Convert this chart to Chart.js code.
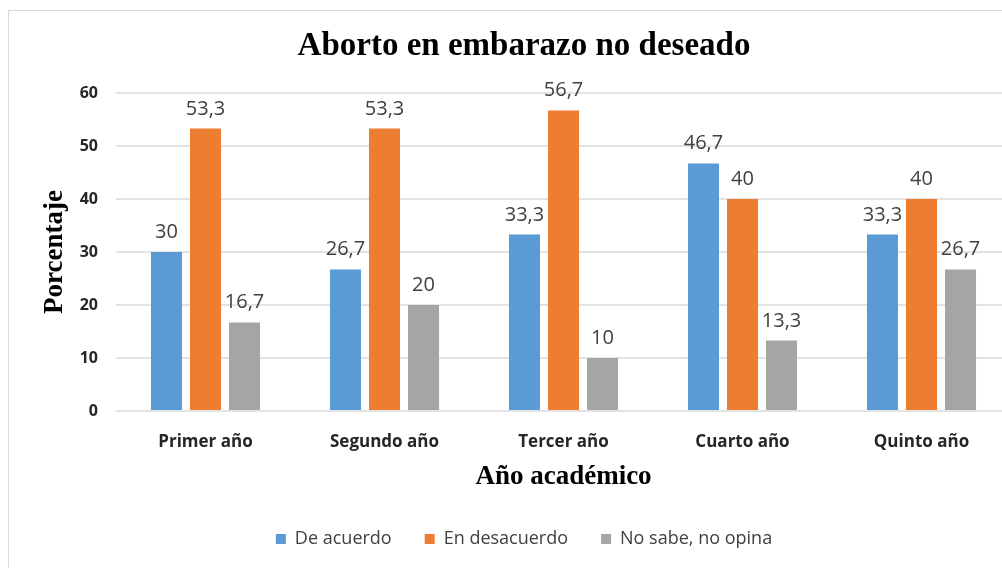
<!DOCTYPE html>
<html>
<head>
<meta charset="utf-8">
<script src="https://cdn.jsdelivr.net/npm/chart.js@4"></script>
<style>
  html, body { margin: 0; padding: 0; background: #fff; overflow: hidden; }
  #frame { position: absolute; left: 8px; top: 10px; width: 1100px; height: 700px; border: 1px solid #d9d9d9; box-sizing: border-box; }
  #wrap { position: absolute; left: 0; top: 0; width: 1048px; height: 568px; }
</style>
</head>
<body>
<div id="frame"></div>
<div id="wrap"><canvas id="chart"></canvas></div>
<script>
const categories = ["Primer año", "Segundo año", "Tercer año", "Cuarto año", "Quinto año"];
const deAcuerdo = [30, 26.7, 33.3, 46.7, 33.3];
const enDesacuerdo = [53.3, 53.3, 56.7, 40, 40];
const noSabe = [16.7, 20, 10, 13.3, 26.7];
const yTicks = [0, 10, 20, 30, 40, 50, 60];

const sans = "'Open Sans', 'Liberation Sans', sans-serif";
const serif = "'Liberation Serif', 'DejaVu Serif', serif";

// draws the value above each bar, with a comma as decimal mark
const valueLabels = {
  id: "valueLabels",
  afterDatasetsDraw(chart) {
    const c = chart.ctx;
    c.save();
    c.font = "20px " + sans;
    c.fillStyle = "#404040";
    c.textAlign = "center";
    c.textBaseline = "alphabetic";
    chart.data.datasets.forEach((ds, i) => {
      chart.getDatasetMeta(i).data.forEach((bar, j) => {
        const txt = String(ds.data[j]).replace(".", ",");
        c.fillText(txt, bar.x, bar.y - 14);
      });
    });
    c.restore();
  },
};

const ctx = document.getElementById("chart");
new Chart(ctx, {
  type: "bar",
  data: {
    labels: categories,
    datasets: [
      { label: "De acuerdo", data: deAcuerdo, backgroundColor: "#5B9BD5" },
      { label: "En desacuerdo", data: enDesacuerdo, backgroundColor: "#ED7D31" },
      { label: "No sabe, no opina", data: noSabe, backgroundColor: "#A5A5A5" },
    ],
  },
  options: {
    responsive: true,
    maintainAspectRatio: false,
    animation: false,
    datasets: { bar: { categoryPercentage: 0.654, barPercentage: 0.795 } },
    layout: { padding: { left: 0, right: 0, top: 27, bottom: 10 } },
    plugins: {
      title: {
        display: true,
        text: "Aborto en embarazo no deseado",
        color: "#000",
        font: { family: serif, size: 33, weight: "bold" },
        padding: { top: 0, bottom: 26.4 },
      },
      legend: {
        position: "bottom",
        labels: {
          color: "#404040",
          font: { family: sans, size: 18 },
          boxWidth: 10,
          boxHeight: 10,
          padding: 33,
        },
      },
      tooltip: { enabled: false },
    },
    scales: {
      x: {
        grid: { display: false },
        border: { display: false },
        ticks: { color: "#262626", font: { family: sans, size: 17, weight: "bold" }, padding: 13 },
        title: {
          display: true,
          text: "Año académico",
          color: "#000",
          font: { family: serif, size: 27, weight: "bold" },
          padding: { top: 0, bottom: 4 },
        },
        afterFit(scale) { scale.height = 86; },
      },
      y: {
        min: 0,
        max: 60,
        afterBuildTicks(scale) { scale.ticks = yTicks.map(v => ({ value: v })); },
        grid: { color: "#e3e3e3", lineWidth: 2, drawTicks: false },
        border: { display: false },
        ticks: { color: "#262626", font: { family: sans, size: 16, weight: "bold" }, padding: 18 },
        title: {
          display: true,
          text: "Porcentaje",
          color: "#000",
          font: { family: serif, size: 27, weight: "bold" },
          padding: { top: 39, bottom: 0 },
        },
        afterFit(scale) { scale.width = 116; },
      },
      // empty spacer on the right so the plot runs past the window edge
      spacer: {
        position: "right",
        min: 0,
        max: 60,
        grid: { display: false },
        border: { display: false },
        ticks: { display: false },
        afterFit(scale) { scale.width = 37; },
      },
    },
  },
  plugins: [valueLabels],
});
</script>
</body>
</html>
